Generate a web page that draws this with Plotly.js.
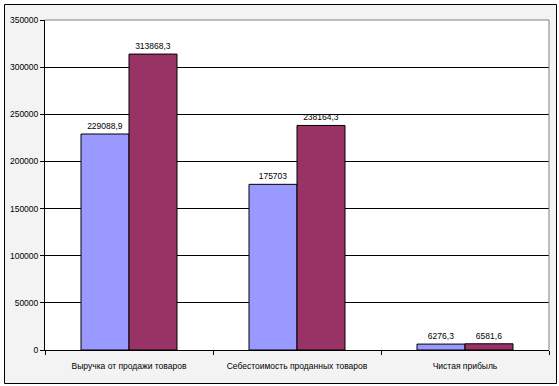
<!DOCTYPE html>
<html>
<head>
<meta charset="utf-8">
<script src="https://cdn.plot.ly/plotly-3.0.1.min.js"></script>
<style>html,body{margin:0;padding:0;background:#fff;}#chart{width:559px;height:386px;}</style>
</head>
<body>
<div id="chart"></div>
<script>
var categories = ["Выручка от продажи товаров", "Себестоимость проданных товаров", "Чистая прибыль"];
var series1 = [229088.9, 175703, 6276.3];
var series2 = [313868.3, 238164.3, 6581.6];
var yTicks = [0, 50000, 100000, 150000, 200000, 250000, 300000, 350000];

function fmt(v) { return String(v).replace('.', ','); }

var W = 559, H = 386, L = 45, R = 10, T = 20, B = 36;
var pw = W - L - R, ph = H - T - B;
function px2x(p) { return (p - L) / pw; }
function px2y(p) { return (H - B - p) / ph; }

var font = {family: "Liberation Sans, Arial, sans-serif", size: 8.5, color: "#000"};

var traces = [
  {type: "bar", x: categories, y: series1, text: series1.map(fmt), textposition: "outside",
   textfont: font, cliponaxis: false, hoverinfo: "none",
   marker: {color: "#9999FF", line: {color: "#000", width: 1}}},
  {type: "bar", x: categories, y: series2, text: series2.map(fmt), textposition: "outside",
   textfont: font, cliponaxis: false, hoverinfo: "none",
   marker: {color: "#993366", line: {color: "#000", width: 1}}}
];

var layout = {
  width: W, height: H,
  margin: {l: L, r: R, t: T, b: B, pad: 0},
  paper_bgcolor: "#fff", plot_bgcolor: "#fff",
  showlegend: false,
  barmode: "group", bargap: 0.4286, bargroupgap: 0,
  font: font,
  xaxis: {type: "category", showgrid: false, showline: true, linecolor: "#000", linewidth: 1,
          ticks: "outside", tickson: "boundaries", ticklen: 4, tickcolor: "#000",
          ticklabelstandoff: 8, tickfont: font, fixedrange: true},
  yaxis: {range: [0, 350000], tickvals: yTicks, ticktext: yTicks.map(String),
          showgrid: true, gridcolor: "#000", gridwidth: 1,
          showline: true, linecolor: "#000", linewidth: 1, zeroline: false,
          ticks: "outside", ticklen: 4, tickcolor: "#000", tickfont: font, fixedrange: true},
  shapes: [
    {type: "rect", xref: "paper", yref: "paper", layer: "below",
     x0: px2x(4.5), x1: px2x(556.5), y0: px2y(383.5), y1: px2y(4.5),
     fillcolor: "#f3f3f3", line: {color: "#000", width: 1}},
    {type: "rect", xref: "paper", yref: "paper", layer: "below",
     x0: 0, x1: 1, y0: 0, y1: 1, fillcolor: "#fff", line: {width: 0}},
    {type: "line", xref: "paper", yref: "paper", layer: "above",
     x0: 0, x1: 1, y0: 1, y1: 1, line: {color: "#808080", width: 1}},
    {type: "line", xref: "paper", yref: "paper", layer: "above",
     x0: 1, x1: 1, y0: 0, y1: 1, line: {color: "#808080", width: 1}}
  ]
};

Plotly.newPlot("chart", traces, layout, {displayModeBar: false, staticPlot: true});
</script>
</body>
</html>
